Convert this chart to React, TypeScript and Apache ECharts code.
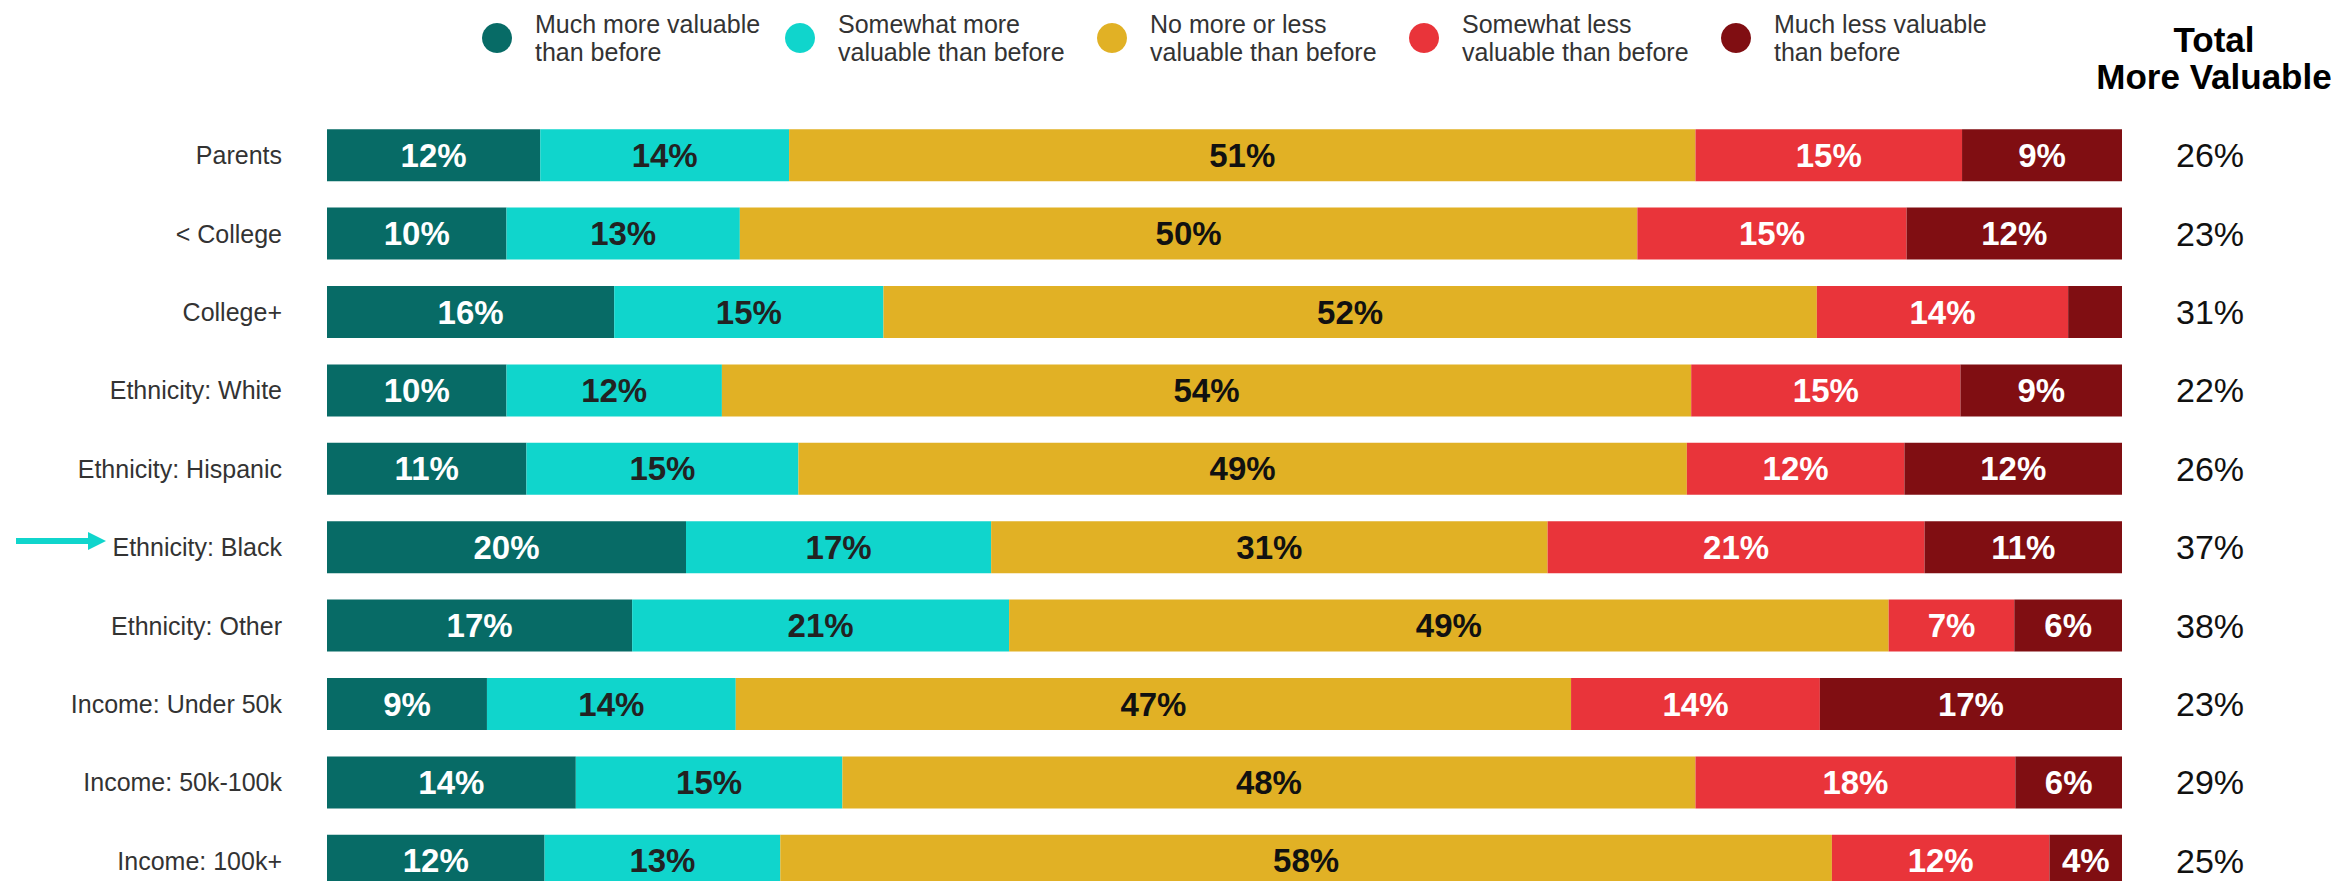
import React, { useEffect, useRef } from "react";
import * as echarts from "echarts";

const categories = [
  "Parents",
  "< College",
  "College+",
  "Ethnicity: White",
  "Ethnicity: Hispanic",
  "Ethnicity: Black",
  "Ethnicity: Other",
  "Income: Under 50k",
  "Income: 50k-100k",
  "Income: 100k+",
];
const seriesNames = [
  "Much more valuable\nthan before",
  "Somewhat more\nvaluable than before",
  "No more or less\nvaluable than before",
  "Somewhat less\nvaluable than before",
  "Much less valuable\nthan before",
];
const muchMore = [12, 10, 16, 10, 11, 20, 17, 9, 14, 12];
const somewhatMore = [14, 13, 15, 12, 15, 17, 21, 14, 15, 13];
const neutral = [51, 50, 52, 54, 49, 31, 49, 47, 48, 58];
const somewhatLess = [15, 15, 14, 15, 12, 21, 7, 14, 18, 12];
const muchLess = [9, 12, 3, 9, 12, 11, 6, 17, 6, 4];
const totalMore = [26, 23, 31, 22, 26, 37, 38, 23, 29, 25];
const totalTitle = "Total\nMore Valuable";

const COLORS = ["#076B66", "#10D5CC", "#E1B125", "#E9343A", "#800E12"];
const LABEL_COLORS = ["#ffffff", "#222222", "#111111", "#ffffff", "#ffffff"];
const LEGEND_X = [497, 800, 1112, 1424, 1736];
const FONT = "Liberation Sans";

export default function App() {
  const ref = useRef<HTMLDivElement>(null);
  useEffect(() => {
    if (!ref.current) return;
    const chart = echarts.init(ref.current, null, { renderer: "svg" });
    const all = [muchMore, somewhatMore, neutral, somewhatLess, muchLess];
    const rowSums = categories.map((_, i) => all.reduce((s, arr) => s + arr[i], 0));

    const series = all.map((arr, si) => ({
      name: seriesNames[si],
      type: "bar",
      stack: "total",
      barWidth: 52,
      itemStyle: { color: COLORS[si] },
      label: {
        show: true,
        position: "inside",
        fontFamily: FONT,
        fontSize: 33,
        fontWeight: "bold",
        color: LABEL_COLORS[si],
        formatter: (p: any) => (p.data.raw >= 4 ? p.data.raw + "%" : ""),
      },
      data: arr.map((v, i) => ({ value: (v / rowSums[i]) * 100, raw: v })),
    }));

    const legendGraphics: any[] = [];
    seriesNames.forEach((n, i) => {
      legendGraphics.push({
        type: "circle",
        shape: { cx: LEGEND_X[i], cy: 38, r: 15 },
        style: { fill: COLORS[i] },
      });
      legendGraphics.push({
        type: "text",
        x: LEGEND_X[i] + 38,
        y: 38,
        style: {
          text: n,
          fontFamily: FONT,
          fontSize: 25,
          lineHeight: 28,
          fill: "#333333",
          textAlign: "left",
          textVerticalAlign: "middle",
        },
      });
    });

    chart.setOption({
      animation: false,
      backgroundColor: "#ffffff",
      grid: {
        left: 327,
        right: 222,
        top: 116,
        height: 784,
        containLabel: false,
        outerBoundsMode: "none",
      },
      xAxis: { type: "value", min: 0, max: 100, show: false },
      yAxis: [
        {
          type: "category",
          inverse: true,
          data: categories,
          axisLine: { show: false },
          axisTick: { show: false },
          splitLine: { show: false },
          axisLabel: { margin: 45, fontFamily: FONT, fontSize: 25, color: "#333333" },
        },
        {
          type: "category",
          inverse: true,
          position: "right",
          data: categories,
          axisLine: { show: false },
          axisTick: { show: false },
          splitLine: { show: false },
          axisLabel: {
            margin: 88,
            align: "center",
            fontFamily: FONT,
            fontSize: 34,
            color: "#111111",
            formatter: (_v: string, i: number) => totalMore[i] + "%",
          },
        },
      ],
      series,
      graphic: [
        ...legendGraphics,
        {
          type: "text",
          x: 2214,
          y: 58,
          style: {
            text: totalTitle,
            fontFamily: FONT,
            fontSize: 35,
            fontWeight: "bold",
            lineHeight: 37,
            fill: "#000000",
            textAlign: "center",
            textVerticalAlign: "middle",
          },
        },
        {
          type: "rect",
          shape: { x: 16, y: 538, width: 74, height: 6 },
          style: { fill: COLORS[1] },
        },
        {
          type: "polygon",
          shape: { points: [[88, 532], [106, 541], [88, 550]] },
          style: { fill: COLORS[1] },
        },
      ],
    });
    return () => chart.dispose();
  }, []);
  return (
    <div
      ref={ref}
      style={{ position: "absolute", left: 0, top: 0, width: 2344, height: 881 }}
    />
  );
}
